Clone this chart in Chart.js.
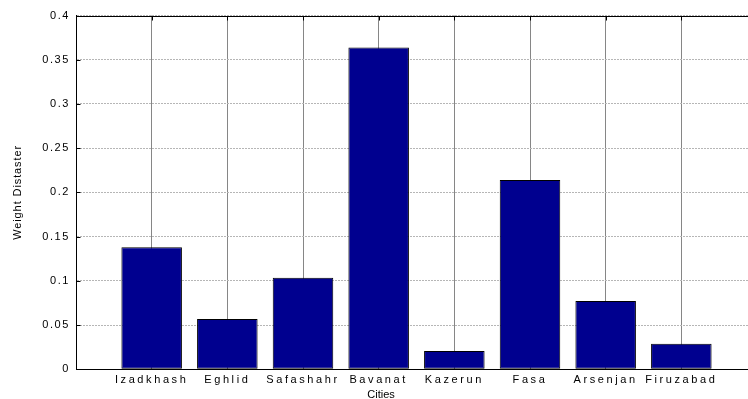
<!DOCTYPE html>
<html>
<head>
<meta charset="utf-8">
<script src="https://cdn.jsdelivr.net/npm/chart.js@4/dist/chart.umd.min.js"></script>
<style>
  html, body { margin: 0; padding: 0; background: #fff; overflow: hidden; }
  #wrap { width: 748px; height: 399px; overflow: hidden; }
  canvas { display: block; }
</style>
</head>
<body>
<div id="wrap"><canvas id="c" width="762" height="410"></canvas></div>
<script>
// Disaster weight per city
const cities = ['Izadkhash', 'Eghlid', 'Safashahr', 'Bavanat', 'Kazerun', 'Fasa', 'Arsenjan', 'Firuzabad'];
const weights = [0.138, 0.057, 0.1036, 0.3638, 0.0207, 0.2141, 0.0773, 0.029];
const yTicks = [0, 0.05, 0.1, 0.15, 0.2, 0.25, 0.3, 0.35, 0.4];

const FONT = { family: '"Liberation Sans", Arial, Helvetica, sans-serif', size: 11 };

// Tick labels (and the y title) are drawn with a little extra letter spacing
function withSpacing(fn, gap) {
  return function (...args) {
    const ctx = this.ctx;
    ctx.save();
    ctx.letterSpacing = gap + 'px';
    fn.apply(this, args);
    ctx.restore();
  };
}
const spacedText = {
  id: 'spacedText',
  beforeDraw(chart) {
    Object.values(chart.scales).forEach(s => {
      if (s._spaced) return;
      s.drawLabels = withSpacing(s.drawLabels, s.axis === 'x' ? 2.6 : 1.6);
      if (s.axis === 'y') s.drawTitle = withSpacing(s.drawTitle, 0.9);
      s._spaced = true;
    });
  }
};

// Top edge of the axes box plus short inward tick marks
const frameAndTicks = {
  id: 'frameAndTicks',
  afterDraw(chart) {
    const { ctx, chartArea: a, scales: { x, y } } = chart;
    const top = Math.round(a.top) + 0.5;
    const left = Math.round(a.left) + 0.5;
    ctx.save();
    ctx.strokeStyle = '#000';
    ctx.lineWidth = 1;
    ctx.beginPath();
    ctx.moveTo(a.left, top);
    ctx.lineTo(a.right, top);
    x.ticks.forEach(t => {
      const px = Math.round(x.getPixelForValue(t.value)) + 0.5;
      ctx.moveTo(px, top);
      ctx.lineTo(px, top + 4);
    });
    y.ticks.forEach(t => {
      const py = Math.round(y.getPixelForValue(t.value)) + 0.5;
      ctx.moveTo(left, py);
      ctx.lineTo(left + 4, py);
    });
    ctx.stroke();
    ctx.restore();
  }
};

new Chart(document.getElementById('c'), {
  type: 'bar',
  data: {
    datasets: [{
      data: cities.map((c, i) => ({ x: i + 1, y: weights[i] })),
      backgroundColor: '#00008f',
      borderColor: '#000000',
      borderWidth: 1,
      borderSkipped: false,
      barPercentage: 0.8,
      categoryPercentage: 1
    }]
  },
  options: {
    responsive: false,
    animation: false,
    events: [],
    layout: { padding: { left: 5, top: 15.5, right: 5, bottom: 0 } },
    plugins: {
      legend: { display: false },
      tooltip: { enabled: false },
      title: {
        display: true,
        position: 'bottom',
        text: 'Cities',
        color: '#000',
        font: { ...FONT, weight: 'normal' },
        padding: { top: 1, bottom: 8.5 }
      }
    },
    scales: {
      x: {
        type: 'linear',
        min: 0,
        max: cities.length + 1,
        offset: false,
        afterFit(s) { s.height = 18; },
        ticks: {
          stepSize: 1,
          autoSkip: false,
          maxRotation: 0,
          padding: 4,
          color: '#000',
          font: FONT,
          callback: v => cities[v - 1] || ''
        },
        grid: {
          offset: false,
          drawTicks: false,
          color: ctx => ctx.tick && ctx.tick.value === 0 ? '#000' : '#868686',
          lineWidth: 1
        },
        border: { display: true, color: '#000', width: 1 }
      },
      y: {
        min: 0,
        max: 0.4,
        afterBuildTicks(s) { s.ticks = yTicks.map(v => ({ value: v })); },
        afterFit(s) { s.width = 71; },
        ticks: {
          padding: 6,
          color: '#000',
          font: FONT,
          callback: v => String(v)
        },
        grid: {
          drawTicks: false,
          color: '#b6b6b6',
          lineWidth: 1
        },
        border: { display: true, color: '#000', width: 1, dash: [2, 1] },
        title: {
          display: true,
          text: 'Weight Distaster',
          color: '#000',
          font: FONT,
          padding: { top: 6, bottom: 0 }
        }
      }
    }
  },
  plugins: [spacedText, frameAndTicks]
});
</script>
</body>
</html>
